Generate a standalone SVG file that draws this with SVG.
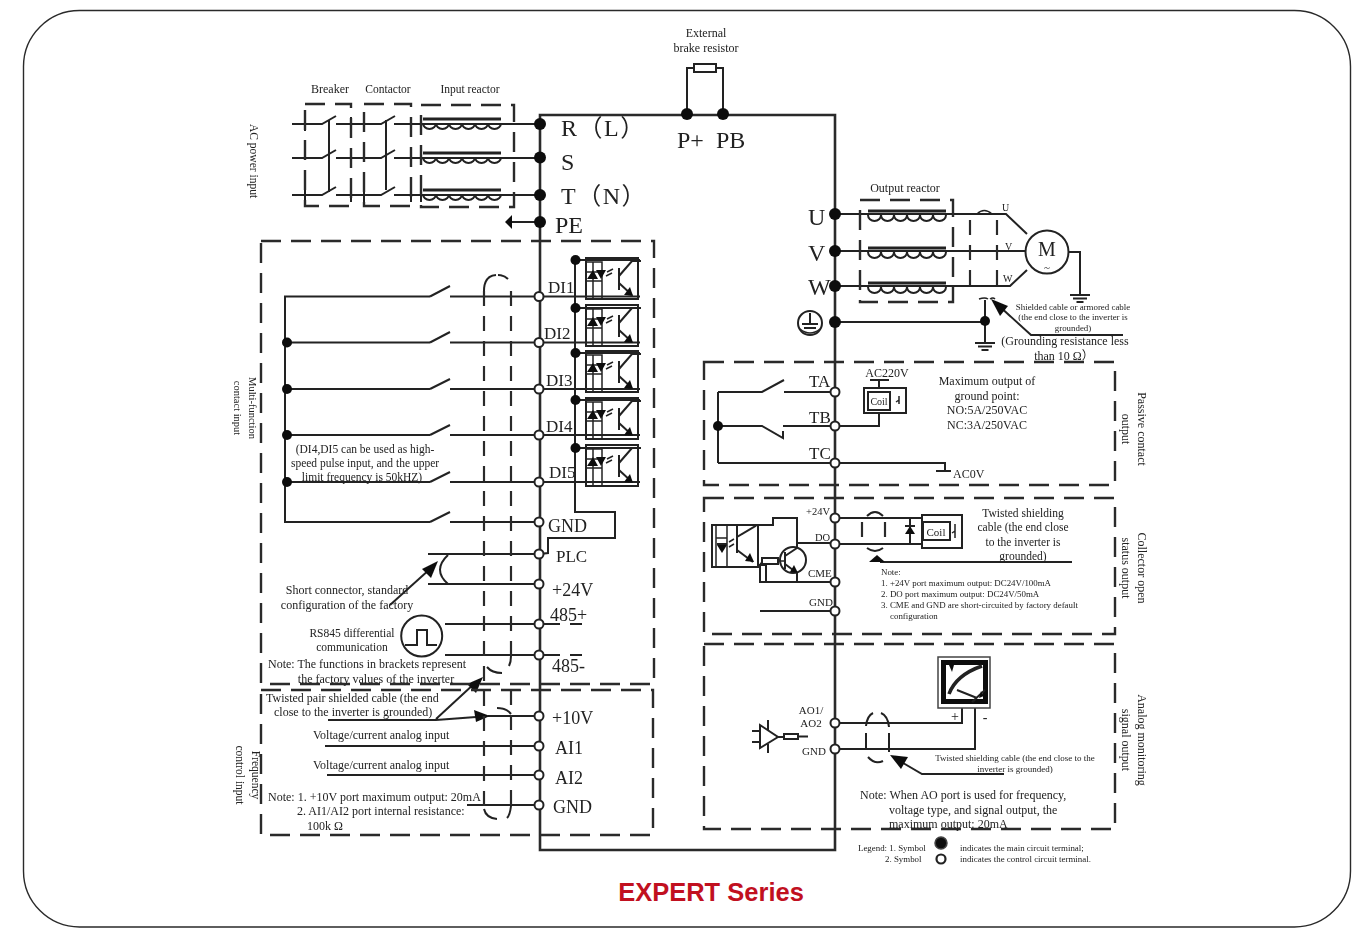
<svg xmlns="http://www.w3.org/2000/svg" width="1367" height="928" viewBox="0 0 1367 928">
<style>
text{font-family:"Liberation Serif","Times New Roman",serif;fill:#222}
.m{text-anchor:middle}
.w{fill:none;stroke:#222;stroke-width:2;stroke-linecap:butt;stroke-linejoin:miter}
.t{fill:none;stroke:#222;stroke-width:1.500}
.a{fill:none;stroke:#222;stroke-width:2}
.main{fill:none;stroke:#2b2b2b;stroke-width:2.600}
.d{fill:none;stroke:#2b2b2b;stroke-width:2.400;stroke-dasharray:20 10}
.s{fill:none;stroke:#2b2b2b;stroke-width:2.200;stroke-dasharray:15 10}
.ot{fill:#fff;stroke:#222;stroke-width:2}
.dot{fill:#0c0c0c;stroke:none}
.f{fill:#111;stroke:none}
.l{font-size:24px}.n{font-size:17px}.c{font-size:11.500px}.c2{font-size:12px}.v{font-size:8.900px}.r{font-size:12px}
</style>
<defs>
<filter id="soft" filterUnits="userSpaceOnUse" x="0" y="0" width="1367" height="928"><feGaussianBlur stdDeviation="0.7"/></filter>
<g id="coil"><path class="a" style="stroke-width:2.800" d="M0 0H78"/><path class="a" d="M0 4a6.500 6 0 0 0 13 0a6.500 6 0 0 0 13 0a6.500 6 0 0 0 13 0a6.500 6 0 0 0 13 0a6.500 6 0 0 0 13 0a6.500 6 0 0 0 13 0"/></g>
<g id="opto"><rect class="a" x="0" y="0" width="52" height="41"/><path class="t" d="M0 4H16V41M7 4V41M0 14H16M0 23H16"/><path class="f" d="M1 21H12L7 12ZM10 12H20L15 21Z"/><path class="t" d="M21 14l6-3M20 18l6-3"/><path class="w" d="M33 10V32M33 18L46 3H55M33 25L46 37"/><path class="f" d="M47 38L38 37L44 29Z"/></g>
<g id="gnd"><path class="w" d="M-10 0H10M-7 3.500H7M-3.500 7H3.500"/></g>
</defs>
<rect id="frame" x="23.500" y="10.500" width="1327" height="916.500" rx="56" ry="56" fill="#fff" stroke="#2a2a2a" stroke-width="1.400"/>
<g filter="url(#soft)">
<g id="connectors">
<path class="main" d="M540 115H835V850H540Z"/>
<path class="w" d="M687 114V68H694M716 68H723V114"/>
<path class="w" d="M292 124H322L336 116M336 124H381L395 116M394 124H540M292 158H322L336 150M336 158H381L395 150M394 158H540M292 195H322L336 187M336 195H381L395 187M394 195H540"/>
<path class="w" d="M329 120V192M386 120V190"/>
<path class="w" d="M305 117V131M351 117V131M364 117V131M411 117V131M305 188V202M351 188V202M364 188V202M411 188V202M421 188V202"/>
<path class="w" d="M540 222H510"/><path class="f" d="M505 222L512 215V229Z"/>
<path class="w" d="M430 296.500H285V522H430"/>
<path class="w" d="M285 342.500H430M285 389H430M285 435H430M285 482H430"/>
<path class="w" d="M430 296.500L450 286M450 296.500H640M430 342.500L450 332M450 342.500H640M430 389L450 379M450 389H640M430 435L450 425M450 435H640M430 482L450 472M450 482H640M430 522L450 512M450 522H540"/>
<path class="w" d="M575 260H640M575 308H640M575 353H640M575 400H640M575 448H640"/>
<path class="w" d="M575 260V512H615V538H548V553L540 554"/>
<path class="w" d="M428 554H540M428 584H540M448 555Q432 570 448 584"/>
<path class="w" d="M390 605L430 569"/><path class="f" d="M438 561L422 569L431 578Z"/>
<path class="w" d="M445 624H560M570 624H582M445 655H560M570 655H582"/>
<path class="w" d="M328 720H436L476 717M488 716H540M436 719L475 683"/>
<path class="f" d="M490 716L474 710L476 722ZM483 677L467 684L476 693Z"/>
<path class="w" d="M325 746H540M327 775H540M467 805H540"/>
<path class="s" d="M484 291V815M511 291V660M511 690V815"/>
<path class="a" d="M484 291Q484 276 496 275M498 275Q504 275 508 279M487 667Q492 673 502 673M511 656Q511 662 509 666M497 708Q506 708 511 714M484 809Q486 818 497 819M511 806Q510 815 507 818"/>
<path class="w" d="M835 214H1006L1027 234M835 251H1025M835 286H1010L1027 270"/>
<path class="w" d="M1069 252H1080V295"/>
<path class="s" d="M970 220V293M997 220V293"/>
<path class="t" d="M977 214Q984 207 992 214"/>
<path class="w" d="M835 322H985M985 300V343"/>
<path class="t" d="M979 299Q985 297 988 299M990 299Q993 297 995 299"/>
<path class="w" d="M1123 335H1031L998 305"/><path class="f" d="M991 299L1008 306L1000 316Z"/>
<path class="w" d="M784 392H835M718 392H762L784 380M718 392V463M718 426H762L783 438L783 431M783 426H835M718 463H945V471"/>
<path class="w" d="M936 471H951"/>
<path class="w" d="M835 426H879V413M879 388V380M870 380H889"/>
<path class="w" d="M835 518H922M835 544H922M910 518V544"/>
<path class="a" d="M797 543H835M758 525H773V518H797V548M762 582H835M797 572V582"/>
<path class="s" d="M862 522V541M885 522V541"/>
<path class="a" d="M867 516Q875 508 883 516M867 548Q875 554 883 548"/>
<path class="w" d="M880 562H1072"/><path class="f" d="M869 562H885L877 555Z"/>
<path class="w" d="M760 611H835"/>
<path class="w" d="M835 723H962V708M835 749H975V708"/>
<path class="w" d="M866 733V749M889 733V752"/>
<path class="a" d="M866 726Q867 716 873 713M881 713Q888 716 889 727M868 757Q875 765 883 761"/>
<path class="w" d="M1004 774H922L898 760"/><path class="f" d="M890 755L908 757L901 769Z"/>
</g>
<g id="enclosures">
<rect class="d" x="305" y="104" width="46" height="102"/>
<rect class="d" x="364" y="104" width="47" height="102"/>
<rect class="d" x="421" y="105" width="93" height="102"/>
<rect class="d" x="261" y="241" width="393" height="443"/>
<rect class="d" x="261" y="690" width="392" height="145"/>
<rect class="d" x="860" y="200" width="93" height="102"/>
<rect class="d" x="704" y="362" width="411" height="123"/>
<rect class="d" x="704" y="498" width="411" height="136"/>
<rect class="d" x="704" y="644" width="411" height="185"/>
</g>
<g id="breaker"><text class="c2 m" x="330" y="93">Breaker</text></g>
<g id="contactor"><text class="c m" x="388" y="93">Contactor</text></g>
<g id="input-reactor">
<text class="c m" x="470" y="93">Input reactor</text>
<use href="#coil" x="423" y="119"/><use href="#coil" x="423" y="153"/><use href="#coil" x="423" y="190"/>
</g>
<g id="output-reactor">
<text class="c2 m" x="905" y="192">Output reactor</text>
<use href="#coil" x="868" y="211"/><use href="#coil" x="868" y="248"/><use href="#coil" x="868" y="283"/>
</g>
<g id="brake-resistor">
<text class="c2 m" x="706" y="37">External</text><text class="c2 m" x="706" y="52">brake resistor</text>
<rect class="a" x="694" y="64" width="22" height="8"/>
<text class="l" x="677" y="148">P+</text><text class="l" x="716" y="148">PB</text>
<circle class="dot" cx="687" cy="114" r="6"/><circle class="dot" cx="723" cy="114" r="6"/>
</g>
<g id="power-terminals">
<text class="l" x="561" y="136" style="font-family:'Liberation Serif','Noto Sans CJK SC',serif;letter-spacing:1.500px">R（L）</text>
<text class="l" x="561" y="170">S</text>
<text class="l" x="561" y="204" style="font-family:'Liberation Serif','Noto Sans CJK SC',serif;letter-spacing:1.500px">T（N）</text>
<text class="l" x="555" y="233">PE</text>
<circle class="dot" cx="540" cy="124" r="6"/><circle class="dot" cx="540" cy="157.500" r="6"/><circle class="dot" cx="540" cy="195" r="6"/><circle class="dot" cx="540" cy="222" r="6"/>
<text transform="translate(250,124) rotate(90)" font-size="11.500">AC power input</text>
</g>
<g id="digital-inputs">
<circle class="dot" cx="287" cy="342.500" r="5"/><circle class="dot" cx="287" cy="389" r="5"/><circle class="dot" cx="287" cy="435" r="5"/><circle class="dot" cx="287" cy="482" r="5"/>
<text class="c m" x="365" y="453">(DI4,DI5 can be used as high-</text>
<text class="c m" x="365" y="467">speed pulse input, and the upper</text>
<text class="c m" x="362" y="481">limit frequency is 50kHZ)</text>
<text class="m" font-size="10.500" transform="translate(249,408) rotate(90)">Multi-function</text>
<text class="m" font-size="10.500" transform="translate(234,408) rotate(90)">contact input</text>
</g>
<g id="optocouplers">
<use href="#opto" x="586" y="258"/><use href="#opto" x="586" y="305"/><use href="#opto" x="586" y="351"/><use href="#opto" x="586" y="398"/><use href="#opto" x="586" y="445"/>
<circle class="dot" cx="575.500" cy="260" r="5"/><circle class="dot" cx="575.500" cy="308" r="5"/><circle class="dot" cx="575.500" cy="353" r="5"/><circle class="dot" cx="575.500" cy="400" r="5"/><circle class="dot" cx="575.500" cy="448" r="5"/>
</g>
<g id="control-terminals">
<circle class="ot" cx="539" cy="296.500" r="4.500"/><circle class="ot" cx="539" cy="342.500" r="4.500"/><circle class="ot" cx="539" cy="389" r="4.500"/><circle class="ot" cx="539" cy="435" r="4.500"/><circle class="ot" cx="539" cy="482" r="4.500"/><circle class="ot" cx="539" cy="522" r="4.500"/><circle class="ot" cx="539" cy="554" r="4.500"/><circle class="ot" cx="539" cy="584" r="4.500"/><circle class="ot" cx="539" cy="624" r="4.500"/><circle class="ot" cx="539" cy="655" r="4.500"/><circle class="ot" cx="539" cy="716" r="4.500"/><circle class="ot" cx="539" cy="746" r="4.500"/><circle class="ot" cx="539" cy="775" r="4.500"/><circle class="ot" cx="539" cy="805" r="4.500"/>
<text class="n" x="548" y="293">DI1</text><text class="n" x="544" y="339">DI2</text><text class="n" x="546" y="386">DI3</text><text class="n" x="546" y="432">DI4</text><text class="n" x="549" y="478">DI5</text>
<text font-size="18" x="548" y="532">GND</text><text class="n" x="556" y="562">PLC</text><text font-size="18" x="552" y="596">+24V</text><text font-size="18" x="550" y="621">485+</text><text font-size="18" x="552" y="672">485-</text><text font-size="18" x="552" y="724">+10V</text><text font-size="18" x="555" y="754">AI1</text><text font-size="18" x="555" y="784">AI2</text><text font-size="18" x="553" y="813">GND</text>
</g>
<g id="notes-left">
<text class="c2 m" x="347" y="594">Short connector, standard</text>
<text class="c2 m" x="347" y="609">configuration of the factory</text>
<text class="c m" x="352" y="637">RS845 differential</text>
<text class="c m" x="352" y="651">communication</text>
<text class="c2" x="268" y="668">Note: The functions in brackets represent</text>
<text class="c2 m" x="376" y="683">the factory values of the inverter</text>
<text class="c2" x="266" y="702">Twisted pair shielded cable (the end</text>
<text class="c2" x="274" y="716">close to the inverter is grounded)</text>
<text class="c2" x="313" y="739">Voltage/current analog input</text>
<text class="c2" x="313" y="769">Voltage/current analog input</text>
<text class="c2" x="268" y="801">Note: 1. +10V port maximum output: 20mA</text>
<text class="c2" x="297" y="815">2. AI1/AI2 port internal resistance:</text>
<text class="c2" x="307" y="830">100k Ω</text>
<text class="m" font-size="11.500" transform="translate(252,775) rotate(90)">Frequency</text>
<text class="m" font-size="11.500" transform="translate(236,775) rotate(90)">control input</text>
</g>
<g id="rs485-source"><circle class="a" cx="421.700" cy="636" r="20.500"/><path class="w" d="M405 645H417V630H427V645H437"/></g>
<g id="motor">
<circle class="ot" cx="1047" cy="252" r="21.500"/>
<text class="m" font-size="20" x="1047" y="256">M</text><text class="m" font-size="11" x="1047" y="271">~</text>
<text font-size="10" x="1002" y="211">U</text><text font-size="10" x="1005" y="250">V</text><text font-size="10" x="1003" y="282">W</text>
<use href="#gnd" x="1080" y="295"/>
</g>
<g id="output-terminals">
<text class="l" x="808" y="225">U</text><text class="l" x="808" y="261">V</text><text class="l" x="808" y="295">W</text>
<circle class="dot" cx="835" cy="214" r="6"/><circle class="dot" cx="835" cy="251" r="6"/><circle class="dot" cx="835" cy="286" r="6"/><circle class="dot" cx="835" cy="322" r="6"/><circle class="dot" cx="985" cy="321" r="5"/>
<circle class="w" cx="810" cy="323" r="12"/><path class="w" d="M810 313V324M802 324H818M804 328H816"/><path class="t" d="M800 329Q810 337 820 329"/>
<use href="#gnd" x="985" y="343"/>
<text class="v m" x="1073" y="310">Shielded cable or armored cable</text>
<text class="v m" x="1073" y="320">(the end close to the inverter is</text>
<text class="v m" x="1073" y="331">grounded)</text>
<text class="c2 m" x="1065" y="345">(Grounding resistance less</text>
<text class="c2 m" x="1064" y="360" style="font-family:'Liberation Serif','Noto Sans CJK SC',serif">than 10 Ω）</text>
</g>
<g id="relay-output">
<rect class="w" x="864" y="388" width="42" height="25"/><rect class="w" x="868" y="392" width="22" height="18"/>
<path class="t" d="M899 396V404M899 400L896 402"/>
<text class="m" font-size="10" x="879" y="405">Coil</text>
<text class="m" font-size="12" x="887" y="377">AC220V</text>
<text class="n" x="809" y="387">TA</text><text class="n" x="809" y="423">TB</text><text class="n" x="809" y="459">TC</text>
<circle class="ot" cx="835" cy="392" r="4.500"/><circle class="ot" cx="835" cy="426" r="4.500"/><circle class="ot" cx="835" cy="463" r="4.500"/>
<circle class="dot" cx="718" cy="426" r="5"/>
<text font-size="12" x="953" y="478">AC0V</text>
<text class="m" font-size="12" x="987" y="385">Maximum output of</text>
<text class="m" font-size="12" x="987" y="400">ground point:</text>
<text class="m" font-size="12" x="987" y="414">NO:5A/250VAC</text>
<text class="m" font-size="12" x="987" y="429">NC:3A/250VAC</text>
<text class="m r" transform="translate(1138,429) rotate(90)">Passive contact</text>
<text class="m r" transform="translate(1122,429) rotate(90)">output</text>
</g>
<g id="collector-output">
<rect class="a" x="712" y="525" width="46" height="42"/>
<path class="t" d="M712 525V567M716 525V567M727 525V567M716 538H727"/>
<path class="f" d="M717 545H727L722 553Z"/><path class="w" d="M717 544H727"/>
<path class="t" d="M729 542l5-3M729 547l5-3"/>
<path class="w" d="M737 525V553M737 537L757 525M737 550L753 562"/><path class="f" d="M754 562L745 561L750 553Z"/>
<rect class="a" x="762" y="558" width="16" height="6"/><path class="t" d="M758 567L762 562M778 561H785"/>
<rect class="a" x="760" y="565" width="6" height="17"/>
<circle class="a" cx="793" cy="560" r="13"/>
<path class="w" d="M785 552V569M785 556L797 548M785 564L797 573"/><path class="f" d="M798 573L790 572L794 565Z"/>
<path class="f" d="M905 534H915L910 526Z"/><path class="w" d="M905 526H915"/>
<rect class="w" x="922" y="515" width="40" height="33"/><rect class="w" x="923" y="522" width="27" height="18"/>
<path class="t" d="M955 524V538M955 531L952 533"/>
<text class="m" font-size="11" x="936" y="536">Coil</text>
<circle class="ot" cx="835" cy="518" r="4.500"/><circle class="ot" cx="835" cy="544" r="4.500"/><circle class="ot" cx="835" cy="582" r="4.500"/><circle class="ot" cx="835" cy="611" r="4.500"/>
<text font-size="10.500" x="806" y="515">+24V</text><text font-size="10.500" x="815" y="541">DO</text><text font-size="11" x="808" y="577">CME</text><text font-size="11" x="809" y="606">GND</text>
<text class="c m" x="1023" y="517">Twisted shielding</text><text class="c m" x="1023" y="531">cable (the end close</text><text class="c m" x="1023" y="546">to the inverter is</text><text class="c m" x="1023" y="560">grounded)</text>
<text class="v" x="881" y="575">Note:</text>
<text class="v" x="881" y="586">1. +24V port maximum output: DC24V/100mA</text>
<text class="v" x="881" y="597">2. DO port maximum output: DC24V/50mA</text>
<text class="v" x="881" y="608">3. CME and GND are short-circuited  by factory default</text>
<text class="v" x="890" y="619">configuration</text>
<text class="m r" transform="translate(1138,568) rotate(90)">Collector open</text>
<text class="m r" transform="translate(1122,568) rotate(90)">status output</text>
</g>
<g id="analog-output">
<rect x="938" y="657" width="52" height="51" fill="#fff" stroke="#444" stroke-width="1.500"/>
<path class="f" fill-rule="evenodd" d="M941 660H988V704H941ZM946 665V699H983V665Z"/>
<path class="w" style="stroke-width:3.500" d="M949 694Q956 675 982 666"/><path class="w" d="M957 690L977 698M972 702L985 690"/>
<path class="f" d="M949 665l5 0l-2 7ZM979 698l5-2l-3-5Z"/>
<text class="m" font-size="14" x="955" y="721">+</text><text class="m" font-size="14" x="985" y="722">-</text>
<circle class="ot" cx="835" cy="723" r="4.500"/><circle class="ot" cx="835" cy="749" r="4.500"/>
<path class="w" d="M760 725V748L778 737ZM752 731H760M752 742H760M768 720V730M768 744V753M778 737H784M798 736.500H808"/>
<rect class="a" x="784" y="734" width="14" height="5"/>
<text class="m" font-size="11" x="811" y="714">AO1/</text><text class="m" font-size="11" x="811" y="727">AO2</text><text font-size="11" x="802" y="755">GND</text>
<text class="m" font-size="9" x="1015" y="761">Twisted shielding cable (the end close to the</text>
<text class="m" font-size="9" x="1015" y="772">inverter is grounded)</text>
<text class="c2" x="860" y="799">Note: When AO port is used for frequency,</text>
<text class="c2" x="889" y="814">voltage type, and signal output, the</text>
<text class="c2" x="889" y="828">maximum output: 20mA</text>
<text class="m r" transform="translate(1138,740) rotate(90)">Analog monitoring</text>
<text class="m r" transform="translate(1122,740) rotate(90)">signal output</text>
</g>
<g id="legend">
<text class="v" x="858" y="851">Legend: 1. Symbol</text><text class="v" x="885" y="862">2. Symbol</text>
<circle cx="941" cy="843" r="6" fill="#111" stroke="#444" stroke-width="1.500"/><circle cx="941" cy="859" r="4.500" fill="#fff" stroke="#222" stroke-width="2.200"/>
<text class="v" x="960" y="851">indicates the main circuit terminal;</text><text class="v" x="960" y="862">indicates the control circuit terminal.</text>
</g>
</g>
<g id="title"><text class="m" x="711" y="901" style="font-family:'Liberation Sans',Arial,sans-serif;font-weight:700;font-size:25.500px;fill:#c1101f">EXPERT Series</text></g>
</svg>
